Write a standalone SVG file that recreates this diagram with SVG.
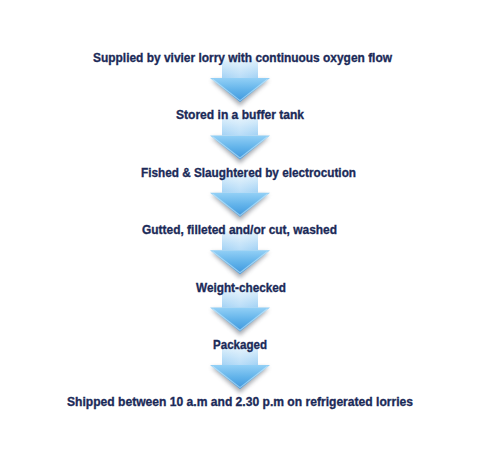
<svg xmlns="http://www.w3.org/2000/svg" width="480" height="452" viewBox="0 0 480 452">
  <style>
    .lbl { font-family: "Liberation Sans", Arial, sans-serif; font-weight: bold; font-size: 13.5px; fill: #1b2a58; stroke: #1b2a58; stroke-width: 0.35px; }
  </style>
  <defs>
    <linearGradient id="shaftGrad" x1="0" y1="0" x2="0" y2="1">
      <stop offset="0" stop-color="#ffffff" stop-opacity="0"/>
      <stop offset="0.35" stop-color="#d8edfb"/>
      <stop offset="1" stop-color="#a2d2f5"/>
    </linearGradient>
    <linearGradient id="shaftSide" x1="0" y1="0" x2="1" y2="0">
      <stop offset="0" stop-color="#ffffff" stop-opacity="0"/>
      <stop offset="0.5" stop-color="#ffffff" stop-opacity="0.25"/>
      <stop offset="1" stop-color="#ffffff" stop-opacity="0"/>
    </linearGradient>
    <linearGradient id="headGrad" x1="0" y1="0" x2="0" y2="1">
      <stop offset="0" stop-color="#93d0f6"/>
      <stop offset="0.5" stop-color="#62b3ea"/>
      <stop offset="1" stop-color="#3c96de"/>
    </linearGradient>
    <filter id="shadow" x="-30%" y="-30%" width="160%" height="180%">
      <feGaussianBlur stdDeviation="2.2"/>
    </filter>
    <g id="arrow">
      <polygon points="-29,2 29,2 0,28" fill="#6f7680" opacity="0.6" filter="url(#shadow)"/>
      <rect x="-18" y="-25" width="36" height="25" fill="url(#shaftGrad)"/>
      <rect x="-18" y="-25" width="36" height="25" fill="url(#shaftSide)"/>
      <polygon points="-30,0 30,0 0,24" fill="url(#headGrad)"/>
      <polyline points="-27.5,1.2 0,22.6 27.5,1.2" fill="none" stroke="#d6eefc" stroke-opacity="0.55" stroke-width="1.2"/>
    </g>
  </defs>

  <g id="connectors">
    <use href="#arrow" transform="translate(240,78)"/>
    <use href="#arrow" transform="translate(240,135.4)"/>
    <use href="#arrow" transform="translate(240,192.8)"/>
    <use href="#arrow" transform="translate(240,250.2)"/>
    <use href="#arrow" transform="translate(240,307.6)"/>
    <use href="#arrow" transform="translate(240,365)"/>
  </g>

  <g id="step1"><text class="lbl" x="93" y="62" textLength="299" lengthAdjust="spacingAndGlyphs">Supplied by vivier lorry with continuous oxygen flow</text></g>
  <g id="step2"><text class="lbl" x="176" y="119.4" textLength="128" lengthAdjust="spacingAndGlyphs">Stored in a buffer tank</text></g>
  <g id="step3"><text class="lbl" x="141" y="176.8" textLength="215" lengthAdjust="spacingAndGlyphs">Fished &amp; Slaughtered by electrocution</text></g>
  <g id="step4"><text class="lbl" x="142" y="234.2" textLength="195" lengthAdjust="spacingAndGlyphs">Gutted, filleted and/or cut, washed</text></g>
  <g id="step5"><text class="lbl" x="196" y="291.6" textLength="90" lengthAdjust="spacingAndGlyphs">Weight-checked</text></g>
  <g id="step6"><text class="lbl" x="213" y="349" textLength="54" lengthAdjust="spacingAndGlyphs">Packaged</text></g>
  <g id="step7"><text class="lbl" x="67" y="406.4" textLength="346" lengthAdjust="spacingAndGlyphs">Shipped between 10 a.m and 2.30 p.m on refrigerated lorries</text></g>
</svg>
